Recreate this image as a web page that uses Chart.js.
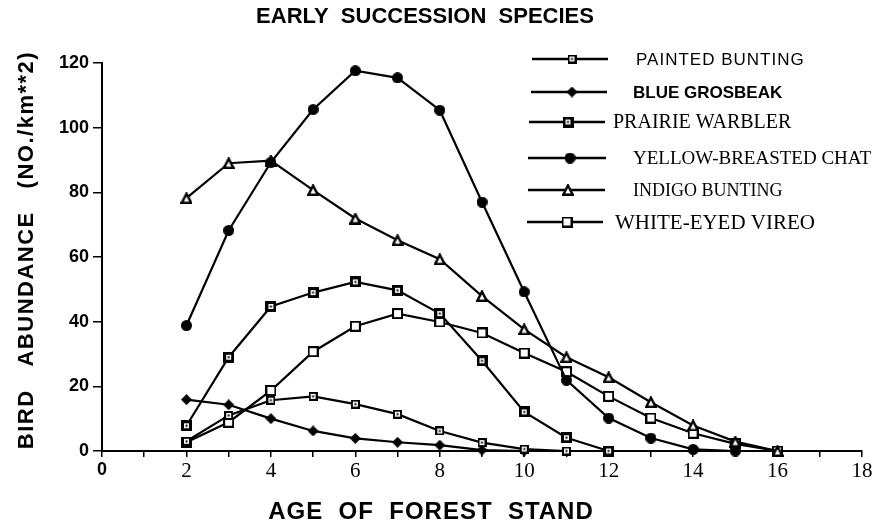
<!DOCTYPE html>
<html>
<head>
<meta charset="utf-8">
<script src="https://cdn.jsdelivr.net/npm/chart.js@4/dist/chart.umd.min.js"></script>
<style>
  html, body { margin: 0; padding: 0; background: #fff; }
  #wrap { width: 880px; height: 530px; }
</style>
</head>
<body>
<div id="wrap"><canvas id="c" width="880" height="530"></canvas></div>
<script>
// ---------- data ----------
const chartTitle = "EARLY  SUCCESSION  SPECIES";
const xAxisTitle = "AGE  OF  FOREST  STAND";
const yAxisTitle = "BIRD   ABUNDANCE   (NO./km**2)";
const ages = [2, 3, 4, 5, 6, 7, 8, 9, 10, 11, 12, 13, 14, 15, 16];
const seriesNames = ["PAINTED BUNTING", "BLUE GROSBEAK", "PRAIRIE WARBLER",
                     "YELLOW-BREASTED CHAT", "INDIGO BUNTING", "WHITE-EYED VIREO"];
const paintedBunting     = [3.0, 11.0, 15.7, 16.9, 14.5, 11.4, 6.2, 2.6, 0.6, 0];
const blueGrosbeak       = [15.9, 14.3, 10.0, 6.2, 3.9, 2.7, 1.8, 0.3, 0];
const prairieWarbler     = [7.8, 29.0, 44.7, 49.0, 52.3, 49.7, 42.5, 27.9, 12.1, 4.1, 0];
const yellowBreastedChat = [38.8, 68.2, 89.3, 105.6, 117.6, 115.4, 105.4, 77.0, 49.2, 21.9, 10.2, 4.0, 0.5, 0];
const indigoBunting      = [78.2, 89.0, 89.8, 80.7, 71.9, 65.2, 59.3, 47.9, 37.6, 29.0, 22.8, 15.1, 7.9, 2.9, 0];
const whiteEyedVireo     = [2.7, 8.9, 18.7, 30.7, 38.6, 42.5, 39.9, 36.5, 30.3, 24.5, 16.9, 10.2, 5.5, 2.2, 0];
const xTickLabels = ["0", "2", "4", "6", "8", "10", "12", "14", "16", "18"];
const yTickValues = [0, 20, 40, 60, 80, 100, 120];

// ---------- marker images ----------
function makeCanvas(s) { const c = document.createElement('canvas'); c.width = s; c.height = s; return c; }
function markerDotSquare(s, border, dot) {
  const c = makeCanvas(s), g = c.getContext('2d');
  g.fillStyle = '#000'; g.fillRect(0, 0, s, s);
  g.fillStyle = '#fff'; g.fillRect(border, border, s - 2 * border, s - 2 * border);
  g.fillStyle = '#000'; g.fillRect((s - dot) / 2, (s - dot) / 2, dot, dot);
  return c;
}
function markerOpenSquare(s, border) {
  const c = makeCanvas(s), g = c.getContext('2d');
  g.fillStyle = '#000'; g.fillRect(0, 0, s, s);
  g.fillStyle = '#fff'; g.fillRect(border, border, s - 2 * border, s - 2 * border);
  return c;
}
function markerDiamond(s) {
  const c = makeCanvas(s), g = c.getContext('2d');
  g.fillStyle = '#000'; g.beginPath();
  g.moveTo(s / 2, 0); g.lineTo(s, s / 2); g.lineTo(s / 2, s); g.lineTo(0, s / 2); g.closePath(); g.fill();
  return c;
}
function markerCircle(s) {
  const c = makeCanvas(s), g = c.getContext('2d');
  g.fillStyle = '#000'; g.beginPath(); g.arc(s / 2, s / 2, s / 2, 0, Math.PI * 2); g.fill();
  return c;
}
function markerTriangle(s) {
  const c = makeCanvas(s), g = c.getContext('2d');
  g.fillStyle = '#fff'; g.strokeStyle = '#000'; g.lineWidth = 2.4; g.lineJoin = 'miter';
  g.beginPath(); g.moveTo(s / 2, 1.5); g.lineTo(s - 1.3, s - 1.3); g.lineTo(1.3, s - 1.3); g.closePath();
  g.fill(); g.stroke();
  return c;
}
const markers = [
  markerDotSquare(9, 2, 2),
  markerDiamond(11),
  markerDotSquare(11, 3, 2),
  markerCircle(11),
  markerTriangle(12),
  markerOpenSquare(11, 2)
];

const seriesValues = [paintedBunting, blueGrosbeak, prairieWarbler, yellowBreastedChat, indigoBunting, whiteEyedVireo];
const datasets = seriesValues.map((vals, i) => ({
  label: seriesNames[i],
  data: vals.map((v, j) => ({ x: ages[j], y: v })),
  borderColor: '#000',
  backgroundColor: '#000',
  borderWidth: 2.2,
  pointStyle: markers[i],
  pointRadius: 5,
  pointHoverRadius: 5,
  tension: 0,
  clip: false
}));

// ---------- plugins ----------
const whiteBg = {
  id: 'whiteBg',
  beforeDraw(chart) {
    const g = chart.ctx; g.save(); g.fillStyle = '#fff'; g.fillRect(0, 0, chart.width, chart.height); g.restore();
  }
};

const SANS = '"Liberation Sans", Arial, Helvetica, sans-serif';
const SERIF = '"Liberation Serif", "Times New Roman", Times, serif';

const titles = {
  id: 'titles',
  afterDraw(chart) {
    const g = chart.ctx; g.save(); g.fillStyle = '#000';
    g.textAlign = 'center'; g.textBaseline = 'middle';
    g.font = 'bold 22px ' + SANS;
    g.fillText(chartTitle, 425, 17);
    g.letterSpacing = '1px';
    g.font = 'bold 24px ' + SANS;
    g.fillText(xAxisTitle, 431, 512);
    g.letterSpacing = '1.5px';
    g.translate(27, 250); g.rotate(-Math.PI / 2);
    g.font = 'bold 22px ' + SANS;
    g.fillText(yAxisTitle, 0, 0);
    g.restore();
  }
};

const legendBox = {
  id: 'legendBox',
  afterDraw(chart) {
    const g = chart.ctx;
    const rowY   = [59, 92, 122, 158, 190, 222];
    const lineX0 = [532, 531, 529, 528, 528, 527];
    const lineX1 = [608, 607, 605, 606, 605, 603];
    const mkX    = [572, 572, 568, 570, 568, 567];
    const textX  = [636, 633, 613, 633, 633, 615];
    const fonts  = ['17px ' + SANS, 'bold 17px ' + SANS, '20px ' + SERIF,
                    '19px ' + SERIF, '18px ' + SERIF, '21px ' + SERIF];
    const spacing = ['1px', '0px', '0px', '0px', '0px', '0px'];
    g.save();
    chart.data.datasets.forEach((ds, i) => {
      g.strokeStyle = '#000'; g.lineWidth = 2.4;
      g.beginPath(); g.moveTo(lineX0[i], rowY[i]); g.lineTo(lineX1[i], rowY[i]); g.stroke();
      const m = ds.pointStyle;
      g.drawImage(m, mkX[i] - m.width / 2, rowY[i] - m.height / 2);
      g.fillStyle = '#000'; g.font = fonts[i]; g.letterSpacing = spacing[i];
      g.textAlign = 'left'; g.textBaseline = 'middle';
      g.fillText(ds.label, textX[i], rowY[i] + 1);
    });
    g.restore();
  }
};

// ---------- chart ----------
new Chart(document.getElementById('c'), {
  type: 'line',
  data: { datasets },
  options: {
    responsive: false,
    animation: false,
    events: [],
    layout: { padding: { top: 63, right: 18, left: 0, bottom: 0 } },
    plugins: { legend: { display: false }, title: { display: false }, tooltip: { enabled: false } },
    scales: {
      x: {
        type: 'linear', min: 0, max: 18,
        afterFit(s) { s.height = 79; },
        ticks: {
          stepSize: 1, autoSkip: false, maxRotation: 0, color: '#000', padding: 2,
          callback: (v) => (v % 2 === 0 ? xTickLabels[v / 2] : ''),
          font: (ctx) => (ctx.tick && ctx.tick.value === 0)
            ? { family: SANS, weight: 'bold', size: 18 }
            : { family: SERIF, size: 21 }
        },
        grid: { drawOnChartArea: false, drawTicks: true, tickLength: 6, color: '#000', lineWidth: 1.5 },
        border: { color: '#000', width: 2 }
      },
      y: {
        min: 0, max: 120,
        afterFit(s) { s.width = 102; },
        afterBuildTicks(s) { s.ticks = yTickValues.map(v => ({ value: v })); },
        ticks: { color: '#000', padding: 4, font: { family: SANS, weight: 'bold', size: 18 } },
        grid: { drawOnChartArea: false, drawTicks: true, tickLength: 9, color: '#000', lineWidth: 1.5 },
        border: { color: '#000', width: 2 }
      }
    }
  },
  plugins: [whiteBg, titles, legendBox]
});
</script>
</body>
</html>
